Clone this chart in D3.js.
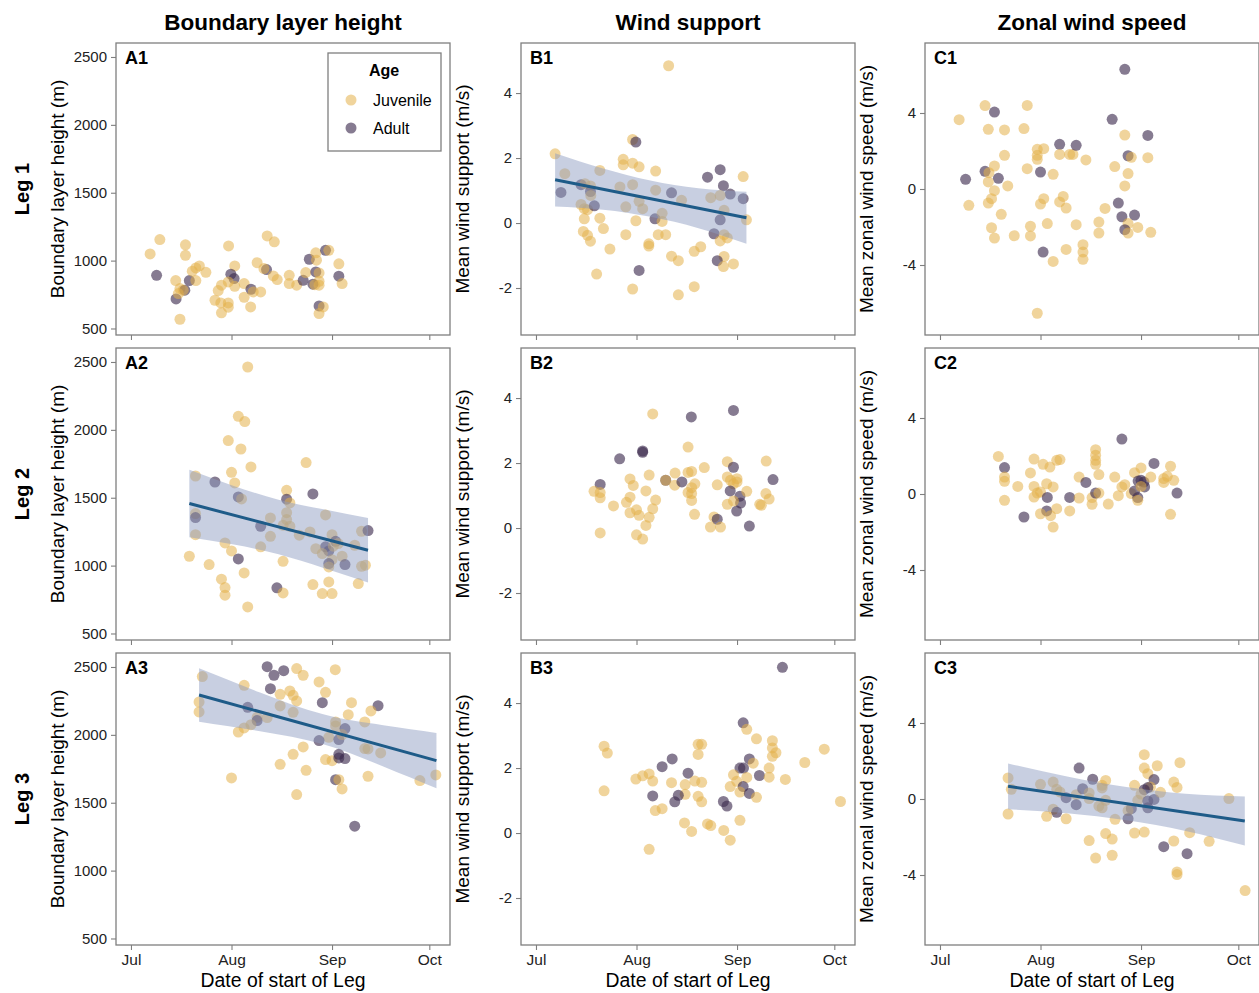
<!DOCTYPE html>
<html>
<head>
<meta charset="utf-8">
<script src="https://cdn.jsdelivr.net/npm/d3@7"></script>
<style>
  body { margin: 0; background: #fff; }
  text { font-family: "Liberation Sans", Arial, Helvetica, sans-serif; }
</style>
</head>
<body>
<svg id="chart" width="1259" height="993"></svg>
<script>
// ---- Data: [start day of year (2019), value, age: J = juvenile, A = adult] ----
const leg1Boundary = [
[187.9,1049,"J"],[190.9,1155,"J"],[189.9,892,"A"],[198.8,1116,"J"],[198.8,1039,"J"],[195.8,853,"J"],[197.1,794,"J"],[198.6,782,"A"],[200.0,853,"A"],[195.9,718,"A"],[197.1,568,"J"],[202.0,853,"J"],[200.9,922,"J"],[202.0,946,"J"],[203.1,961,"J"],[205.1,914,"J"],[198.1,782,"J"],[196.6,757,"J"],[212.1,1108,"J"],[214.0,961,"J"],[212.8,900,"A"],[213.8,868,"A"],[212.0,843,"J"],[209.9,819,"J"],[208.9,779,"J"],[214.0,811,"J"],[216.9,831,"J"],[219.0,789,"A"],[219.7,769,"J"],[222.0,769,"J"],[216.9,730,"J"],[207.9,708,"J"],[209.7,688,"J"],[212.0,688,"J"],[212.0,657,"J"],[209.9,615,"J"],[218.9,659,"J"],[224.0,1182,"J"],[226.2,1138,"J"],[220.9,985,"J"],[223.8,934,"A"],[223.0,941,"J"],[225.9,887,"J"],[227.1,860,"J"],[230.8,892,"J"],[230.8,831,"J"],[233.1,819,"J"],[235.1,855,"A"],[235.9,912,"J"],[237.0,1010,"A"],[239.0,1057,"J"],[239.2,1003,"J"],[239.0,917,"A"],[240.0,909,"J"],[240.0,848,"J"],[238.1,826,"A"],[240.0,819,"J"],[242.0,1076,"A"],[243.0,1076,"J"],[246.1,976,"J"],[246.1,885,"A"],[247.1,831,"J"],[240.0,666,"A"],[241.3,659,"J"],[240.0,610,"J"],[238.7,823,"J"]
];
const leg1Wind = [
[187.9,2.13,"J"],[190.9,1.52,"J"],[189.7,0.94,"A"],[195.9,1.18,"A"],[197.1,1.21,"J"],[198.8,1.14,"J"],[198.8,0.97,"A"],[198.9,0.85,"J"],[195.9,0.57,"J"],[196.9,0.44,"J"],[197.9,0.41,"J"],[200.0,0.53,"A"],[196.9,0.13,"J"],[201.7,0.15,"J"],[201.7,1.62,"J"],[202.8,-0.17,"J"],[196.6,-0.26,"J"],[197.9,-0.38,"J"],[198.8,-0.56,"J"],[204.8,-0.80,"J"],[200.7,-1.57,"J"],[207.9,1.11,"J"],[208.9,1.96,"J"],[208.9,1.79,"J"],[211.8,2.57,"J"],[212.8,2.49,"A"],[211.8,1.84,"J"],[213.8,1.73,"J"],[211.8,1.18,"J"],[213.8,0.67,"J"],[214.9,0.44,"J"],[209.7,0.50,"J"],[212.8,0.07,"J"],[209.7,-0.36,"J"],[218.9,1.60,"J"],[218.9,1.01,"J"],[218.7,0.13,"A"],[220.9,0.30,"J"],[220.9,0.05,"J"],[219.7,-0.36,"J"],[222.0,-0.36,"J"],[216.8,-0.64,"J"],[216.8,-0.71,"J"],[213.8,-1.46,"A"],[211.8,-2.03,"J"],[223.8,0.93,"A"],[226.9,0.70,"J"],[223.8,-1.02,"J"],[225.9,-1.16,"J"],[225.9,-2.21,"J"],[230.8,-0.87,"J"],[232.8,-0.73,"J"],[230.8,-1.96,"J"],[222.9,4.84,"J"],[234.9,1.41,"A"],[235.9,0.78,"J"],[238.8,1.64,"A"],[239.8,1.15,"A"],[241.9,0.89,"A"],[238.8,0.85,"J"],[245.9,1.43,"J"],[245.9,0.75,"A"],[240.0,0.39,"J"],[238.8,0.10,"A"],[246.9,0.10,"J"],[236.9,-0.33,"A"],[240.0,-0.36,"J"],[238.8,-0.55,"J"],[241.0,-0.46,"J"],[240.0,-1.03,"J"],[237.9,-1.16,"A"],[239.8,-1.34,"J"],[242.9,-1.26,"J"]
];
const leg1Zonal = [
[187.9,3.65,"J"],[195.9,4.39,"J"],[198.8,4.05,"A"],[196.9,3.14,"J"],[201.9,3.11,"J"],[208.9,4.40,"J"],[207.9,3.18,"J"],[201.9,1.77,"J"],[198.8,1.21,"J"],[195.9,0.93,"A"],[197.1,0.86,"J"],[200.0,0.56,"A"],[196.9,0.37,"J"],[189.9,0.51,"A"],[202.9,0.16,"J"],[198.8,-0.09,"J"],[197.9,-0.51,"J"],[196.9,-0.74,"J"],[190.9,-0.86,"J"],[200.9,-1.33,"J"],[197.9,-2.04,"J"],[198.8,-2.58,"J"],[204.9,-2.46,"J"],[209.9,-1.96,"J"],[209.9,-2.47,"J"],[208.9,1.07,"J"],[212.0,2.09,"J"],[212.0,1.77,"J"],[212.0,1.56,"J"],[214.0,2.12,"J"],[213.0,0.89,"A"],[216.9,0.77,"J"],[218.9,2.35,"A"],[218.9,1.82,"J"],[222.0,1.82,"J"],[223.0,1.82,"J"],[224.0,2.30,"A"],[227.0,1.53,"J"],[214.0,-0.51,"J"],[213.0,-0.79,"J"],[220.0,-0.39,"J"],[218.9,-0.68,"J"],[220.9,-1.00,"J"],[215.1,-1.82,"J"],[224.0,-1.88,"J"],[213.8,-3.32,"A"],[216.9,-3.81,"J"],[220.9,-3.18,"J"],[226.1,-2.93,"J"],[226.1,-3.32,"J"],[226.1,-3.70,"J"],[212.0,-6.54,"J"],[231.0,-1.74,"J"],[231.0,-2.32,"J"],[232.9,-1.02,"J"],[235.1,3.67,"A"],[239.0,6.30,"A"],[239.0,2.84,"J"],[246.1,2.82,"A"],[240.0,1.75,"A"],[241.0,1.67,"J"],[246.1,1.65,"J"],[235.9,1.18,"J"],[240.0,0.81,"J"],[239.0,0.16,"J"],[237.0,-0.74,"A"],[238.1,-1.46,"A"],[242.0,-1.37,"A"],[240.0,-1.82,"J"],[239.0,-2.14,"A"],[240.0,-2.32,"J"],[243.0,-2.02,"J"],[247.0,-2.28,"J"]
];
const leg2Boundary = [
[218.0,2463,"J"],[215.1,2100,"J"],[217.1,2061,"J"],[212.0,1921,"J"],[215.9,1859,"J"],[219.0,1727,"J"],[213.0,1687,"J"],[214.0,1609,"J"],[236.0,1759,"J"],[201.9,1660,"J"],[207.9,1616,"A"],[215.1,1506,"A"],[216.1,1491,"J"],[201.9,1383,"J"],[201.9,1354,"A"],[201.9,1228,"J"],[200.0,1069,"J"],[206.1,1008,"J"],[211.0,1167,"J"],[213.0,1108,"J"],[215.1,1049,"A"],[216.9,946,"J"],[209.9,900,"J"],[211.0,838,"J"],[211.0,782,"J"],[218.0,696,"J"],[222.0,1290,"A"],[225.0,1351,"J"],[225.0,1216,"J"],[222.0,1138,"J"],[230.0,1555,"J"],[230.0,1489,"A"],[231.0,1462,"J"],[230.0,1390,"J"],[230.0,1339,"J"],[228.9,1297,"J"],[231.0,1290,"J"],[233.9,1224,"J"],[237.2,1248,"J"],[238.1,1528,"A"],[242.0,1373,"J"],[244.0,1228,"J"],[245.1,1179,"A"],[242.0,1138,"A"],[243.0,1108,"A"],[244.4,1143,"J"],[239.0,1125,"J"],[241.0,1089,"J"],[244.0,1044,"J"],[243.0,1015,"A"],[243.0,990,"J"],[247.1,1069,"J"],[248.0,1008,"A"],[251.0,1150,"J"],[253.1,1253,"J"],[255.1,1258,"A"],[253.1,995,"J"],[254.3,1003,"J"],[252.1,868,"J"],[228.9,1032,"J"],[227.0,836,"A"],[228.9,799,"J"],[238.1,860,"J"],[241.0,794,"J"],[244.0,794,"J"],[243.0,880,"J"],[245.9,1162,"J"]
];
const leg2Wind = [
[218.0,3.51,"J"],[229.9,3.42,"A"],[242.9,3.62,"A"],[228.9,2.49,"J"],[214.9,2.37,"A"],[214.9,2.33,"A"],[207.8,2.13,"A"],[201.8,1.34,"A"],[199.9,1.13,"J"],[201.8,1.09,"J"],[201.8,0.93,"J"],[205.9,0.68,"J"],[211.0,1.51,"J"],[212.0,1.31,"J"],[211.0,0.95,"J"],[209.9,0.79,"J"],[211.0,0.47,"J"],[213.0,0.56,"J"],[213.8,0.39,"J"],[215.9,1.14,"J"],[216.9,1.63,"J"],[218.9,0.86,"J"],[218.0,0.59,"J"],[216.9,0.33,"J"],[215.9,0.08,"J"],[201.8,-0.15,"J"],[213.0,-0.21,"J"],[214.9,-0.34,"J"],[222.0,1.47,"A"],[222.0,1.47,"J"],[224.9,1.69,"J"],[224.8,1.32,"J"],[227.0,1.42,"A"],[228.9,1.71,"J"],[230.0,1.74,"J"],[231.0,1.36,"J"],[230.0,1.24,"J"],[228.9,1.09,"J"],[230.0,1.06,"J"],[230.0,0.85,"J"],[230.9,0.42,"J"],[233.9,1.86,"J"],[237.9,1.33,"J"],[236.9,0.34,"J"],[237.9,0.27,"A"],[235.8,0.03,"J"],[238.9,0.03,"J"],[241.0,2.04,"J"],[242.9,1.87,"A"],[241.0,1.57,"J"],[242.0,1.47,"J"],[244.0,1.52,"J"],[242.9,1.36,"J"],[244.0,1.42,"J"],[241.9,1.14,"A"],[244.9,0.98,"A"],[245.1,0.77,"A"],[243.9,0.52,"A"],[242.9,0.83,"J"],[241.0,0.73,"J"],[247.0,1.13,"J"],[247.8,0.06,"A"],[253.0,2.06,"J"],[252.9,1.06,"J"],[253.9,0.89,"J"],[251.0,0.73,"J"],[251.5,0.70,"J"],[255.1,1.49,"A"]
];
const leg2Zonal = [
[200.0,1.98,"J"],[201.9,1.39,"A"],[201.9,0.89,"J"],[201.9,0.67,"J"],[206.0,0.40,"J"],[201.9,-0.33,"J"],[207.9,-1.21,"A"],[211.0,1.84,"J"],[209.9,1.11,"J"],[211.0,0.40,"J"],[212.0,0.05,"J"],[211.0,-0.16,"J"],[213.0,0.11,"J"],[213.8,1.56,"J"],[215.9,1.42,"J"],[214.9,0.54,"J"],[216.9,0.37,"J"],[215.1,-0.18,"A"],[218.0,1.77,"J"],[219.0,1.81,"J"],[214.9,-0.89,"A"],[213.0,-1.04,"J"],[216.1,-1.14,"J"],[218.0,-0.77,"J"],[216.9,-1.74,"J"],[222.0,-0.18,"A"],[222.0,-0.89,"J"],[224.9,0.89,"J"],[224.9,-0.21,"J"],[227.0,0.61,"A"],[230.0,2.33,"J"],[230.0,2.04,"J"],[230.0,1.77,"J"],[230.0,1.56,"J"],[231.0,1.02,"J"],[228.9,-0.19,"J"],[228.9,-0.54,"J"],[230.0,0.05,"A"],[231.0,0.05,"J"],[233.9,-0.53,"J"],[235.9,0.89,"J"],[237.0,-0.09,"J"],[238.1,2.89,"A"],[238.1,0.37,"J"],[239.0,0.49,"J"],[241.0,0.02,"J"],[242.0,1.12,"J"],[244.0,1.37,"J"],[242.0,0.16,"A"],[243.1,0.68,"A"],[244.0,0.72,"A"],[244.9,0.63,"A"],[245.1,0.37,"A"],[243.0,-0.19,"A"],[243.0,-0.33,"J"],[247.0,0.89,"J"],[248.0,1.61,"A"],[251.0,0.81,"J"],[251.0,0.61,"J"],[252.1,0.93,"J"],[253.1,1.46,"J"],[254.1,0.72,"J"],[255.1,0.05,"A"],[253.1,-1.07,"J"],[244.0,0.40,"J"]
];
const leg3Boundary = [
[204.0,2429,"J"],[203.0,2242,"J"],[203.0,2169,"J"],[216.9,2365,"J"],[218.0,2203,"A"],[220.9,2129,"J"],[220.9,2105,"A"],[219.0,2075,"J"],[216.9,2051,"J"],[215.1,2021,"J"],[213.0,1683,"J"],[224.0,2502,"A"],[226.1,2439,"A"],[229.1,2473,"A"],[233.1,2488,"J"],[235.1,2439,"J"],[225.0,2340,"A"],[228.0,2299,"J"],[231.0,2323,"J"],[232.0,2291,"J"],[233.1,2250,"J"],[228.0,2213,"J"],[224.0,2127,"J"],[232.0,2166,"J"],[235.1,1911,"J"],[232.0,1857,"J"],[228.0,1783,"J"],[236.0,1739,"J"],[233.1,1560,"J"],[240.0,2390,"J"],[242.0,2313,"J"],[241.0,2237,"A"],[245.0,2480,"J"],[250.0,2237,"J"],[249.0,2149,"J"],[245.1,2095,"J"],[245.1,2066,"J"],[248.0,2046,"A"],[243.0,1982,"J"],[240.0,1958,"A"],[246.1,1965,"A"],[247.1,2002,"J"],[242.0,1818,"J"],[244.0,1810,"J"],[246.1,1857,"A"],[246.1,1830,"A"],[248.0,1825,"A"],[245.1,1670,"A"],[246.1,1670,"J"],[247.1,1602,"J"],[251.0,1327,"A"],[258.2,2215,"A"],[256.0,2176,"J"],[254.1,2095,"J"],[254.1,1899,"J"],[255.1,1896,"J"],[259.0,1867,"J"],[255.1,1695,"J"],[271.1,1663,"J"],[276.0,1705,"J"]
];
const leg3Wind = [
[203.0,2.67,"J"],[204.0,2.46,"J"],[203.0,1.30,"J"],[212.8,1.66,"J"],[214.9,1.76,"J"],[216.9,1.82,"J"],[218.0,1.60,"J"],[220.9,2.04,"A"],[224.0,2.28,"A"],[218.0,1.14,"A"],[218.8,0.69,"J"],[220.9,0.75,"J"],[216.9,-0.50,"J"],[223.8,1.55,"J"],[228.0,1.49,"J"],[228.9,1.84,"A"],[231.0,1.60,"J"],[233.1,1.56,"J"],[232.0,2.73,"J"],[233.1,2.73,"J"],[232.0,2.42,"J"],[228.0,1.19,"J"],[225.9,1.16,"A"],[224.8,0.96,"A"],[232.0,1.13,"J"],[233.1,0.96,"J"],[227.8,0.31,"J"],[230.0,0.05,"J"],[234.9,0.28,"J"],[235.9,0.23,"J"],[239.9,0.08,"J"],[241.9,-0.22,"J"],[239.8,0.97,"A"],[240.9,0.83,"A"],[244.9,0.39,"J"],[245.9,3.39,"A"],[247.0,3.19,"J"],[250.0,2.90,"J"],[247.8,2.28,"A"],[249.0,2.15,"J"],[244.9,2.00,"A"],[246.0,2.00,"A"],[242.9,1.79,"J"],[243.9,1.59,"J"],[241.9,1.43,"J"],[247.0,1.71,"J"],[245.9,1.43,"A"],[244.9,1.26,"J"],[247.8,1.22,"A"],[250.0,1.10,"J"],[250.9,1.77,"A"],[254.9,2.84,"J"],[254.9,2.62,"J"],[256.0,2.47,"J"],[254.9,2.36,"J"],[253.9,2.00,"J"],[253.9,1.72,"J"],[258.9,1.65,"J"],[258.0,5.10,"A"],[264.9,2.17,"J"],[270.9,2.58,"J"],[275.9,0.97,"J"]
];
const leg3Zonal = [
[203.0,1.11,"J"],[204.0,0.51,"J"],[203.0,-0.79,"J"],[213.0,0.77,"J"],[216.9,0.89,"J"],[218.0,0.51,"J"],[219.0,0.37,"J"],[220.9,0.07,"A"],[216.9,-0.54,"J"],[218.0,-0.70,"A"],[214.9,-0.91,"J"],[220.9,-1.04,"J"],[224.0,0.23,"J"],[224.0,-0.30,"A"],[224.9,1.63,"A"],[226.0,0.54,"A"],[228.0,0.32,"J"],[228.0,0.02,"J"],[229.1,1.04,"A"],[233.1,0.98,"J"],[232.0,0.72,"J"],[232.0,0.58,"J"],[231.0,-0.37,"J"],[232.0,-0.46,"J"],[233.1,-0.07,"J"],[236.0,-1.07,"J"],[233.1,-1.82,"J"],[235.1,-2.11,"J"],[228.0,-2.19,"J"],[230.0,-3.11,"J"],[235.1,-2.96,"J"],[242.0,0.72,"J"],[243.0,-0.07,"J"],[241.0,-0.51,"A"],[240.0,-0.61,"J"],[240.0,-1.04,"A"],[242.0,-1.79,"J"],[245.0,2.33,"J"],[245.0,1.63,"J"],[246.1,1.33,"J"],[248.0,1.02,"A"],[246.9,0.63,"J"],[245.0,0.49,"A"],[246.1,0.60,"A"],[244.0,0.26,"J"],[246.1,-0.11,"A"],[248.0,-0.02,"A"],[246.1,-0.46,"A"],[250.0,0.35,"J"],[249.0,1.75,"J"],[256.0,1.91,"J"],[254.1,0.89,"J"],[255.1,0.61,"J"],[245.0,-1.74,"J"],[251.0,-2.51,"A"],[254.1,-2.21,"J"],[259.0,-1.77,"J"],[258.2,-2.88,"A"],[255.1,-3.84,"J"],[255.1,-3.98,"J"],[265.0,-2.23,"J"],[271.1,0.02,"J"],[276.1,-4.82,"J"]
];

// ---- Fitted trends (linear fit with 95% confidence band) ----
const trendA2 = { day: [200.0, 213.7, 227.5, 241.4, 255.1], fit: [1457, 1113],
  lower: [1208, 1155, 1084, 983, 876], upper: [1706, 1587, 1486, 1415, 1350] };
const trendB1 = { day: [187.9, 202.7, 217.3, 232.1, 246.9], fit: [1.33, 0.16],
  lower: [0.51, 0.41, 0.19, -0.16, -0.64], upper: [2.15, 1.68, 1.31, 1.07, 0.96] };
const trendA3 = { day: [203.0, 221.8, 241.3, 259.8, 276.2], fit: [2294, 1810],
  lower: [2097, 2027, 1930, 1767, 1607], upper: [2490, 2312, 2151, 2071, 2014] };
const trendC3 = { day: [203.0, 221.2, 239.5, 257.7, 276.0], fit: [0.67, -1.16],
  lower: [-0.54, -0.75, -1.12, -1.68, -2.45], upper: [1.87, 1.18, 0.63, 0.28, 0.13] };
const trends = { A2: trendA2, B1: trendB1, A3: trendA3, C3: trendC3 };

const legNames = ["Leg 1", "Leg 2", "Leg 3"];
const variableTitles = ["Boundary layer height", "Wind support", "Zonal wind speed"];
const axisTitles = ["Boundary layer height (m)", "Mean wind support (m/s)", "Mean zonal wind speed (m/s)"];
const panelLetters = ["A", "B", "C"];
const blhTicks = [500, 1000, 1500, 2000, 2500];
const windTicks = [-2, 0, 2, 4];
const zonalTicks = [-4, 0, 4];
const ageLevels = ["Juvenile", "Adult"];
const ageCodes = { J: "Juvenile", A: "Adult" };

const panelData = [
  [leg1Boundary, leg1Wind, leg1Zonal],
  [leg2Boundary, leg2Wind, leg2Zonal],
  [leg3Boundary, leg3Wind, leg3Zonal]
];

// ---- Layout ----
const colLeft = [116, 521, 925];
const rowTop = [43, 348, 653];
const panelW = 334, panelH = 292;
const yDomains = [[452, 2603], [-3.446, 5.54], [-7.684, 7.684]];
const yTicks = [blhTicks, windTicks, zonalTicks];

const ageColor = { Juvenile: "#E3B04B", Adult: "#3B2A4E" };
const ageOpacity = { Juvenile: 0.55, Adult: 0.62 };
const frameColor = "#7f7f7f";
const textColor = "#222";
const fontStack = '"Liberation Sans", Arial, Helvetica, sans-serif';

const dayToDate = doy => new Date(Date.UTC(2019, 0, 1) + (doy - 1) * 864e5);
const x = d3.scaleUtc()
  .domain([dayToDate(177.38), dayToDate(280.38)])
  .range([0, panelW]);

const svg = d3.select("#chart");

// ---- Column and row headers ----
variableTitles.forEach((title, c) => {
  svg.append("text")
    .attr("x", colLeft[c] + panelW / 2).attr("y", 30)
    .attr("text-anchor", "middle")
    .attr("font-size", 22.5).attr("font-weight", "bold").attr("fill", "#000")
    .text(title);
});
legNames.forEach((name, r) => {
  svg.append("text")
    .attr("transform", `translate(29,${rowTop[r] + panelH / 2}) rotate(-90)`)
    .attr("text-anchor", "middle")
    .attr("font-size", 20).attr("font-weight", "bold").attr("fill", "#000")
    .text(name);
});

// ---- Panels ----
panelData.forEach((rowSets, r) => {
  rowSets.forEach((points, c) => {
    const id = panelLetters[c] + (r + 1);
    const g = svg.append("g").attr("transform", `translate(${colLeft[c]},${rowTop[r]})`);
    const y = d3.scaleLinear().domain(yDomains[c]).range([panelH, 0]);

    g.append("clipPath").attr("id", "clip-" + id)
      .append("rect").attr("width", panelW).attr("height", panelH);

    const plot = g.append("g").attr("clip-path", `url(#clip-${id})`);

    plot.selectAll("circle")
      .data(points)
      .join("circle")
      .attr("cx", d => x(dayToDate(d[0])))
      .attr("cy", d => y(d[1]))
      .attr("r", 5.5)
      .attr("fill", d => ageColor[ageCodes[d[2]]])
      .attr("fill-opacity", d => ageOpacity[ageCodes[d[2]]]);

    const trend = trends[id];
    if (trend) {
      const band = trend.day.map((day, i) => ({ day, lower: trend.lower[i], upper: trend.upper[i] }));
      plot.append("path")
        .datum(band)
        .attr("fill", "#8D9AC0")
        .attr("fill-opacity", 0.48)
        .attr("d", d3.area()
          .curve(d3.curveNatural)
          .x(d => x(dayToDate(d.day)))
          .y0(d => y(d.lower))
          .y1(d => y(d.upper)));
      const ends = [0, trend.day.length - 1].map((k, i) => ({ day: trend.day[k], fit: trend.fit[i] }));
      plot.append("path")
        .datum(ends)
        .attr("fill", "none")
        .attr("stroke", "#1E5B88")
        .attr("stroke-width", 3)
        .attr("d", d3.line()
          .x(d => x(dayToDate(d.day)))
          .y(d => y(d.fit)));
    }

    // frame
    g.append("rect")
      .attr("width", panelW).attr("height", panelH)
      .attr("fill", "none").attr("stroke", frameColor).attr("stroke-width", 1.3);

    // y axis
    const yAxis = g.append("g")
      .call(d3.axisLeft(y).tickValues(yTicks[c]).tickSize(5).tickPadding(4).tickFormat(v => String(v)));
    yAxis.select(".domain").remove();
    yAxis.selectAll("line").attr("stroke", frameColor).attr("stroke-width", 1.1);
    yAxis.selectAll("text").attr("font-size", 15).attr("fill", textColor).attr("font-family", fontStack);

    // x axis
    const xAxis = g.append("g")
      .attr("transform", `translate(0,${panelH})`)
      .call(d3.axisBottom(x).ticks(d3.utcMonth.every(1)).tickSize(5).tickPadding(4)
        .tickFormat(r === 2 ? d3.utcFormat("%b") : () => ""));
    xAxis.select(".domain").remove();
    xAxis.selectAll("line").attr("stroke", frameColor).attr("stroke-width", 1.1);
    xAxis.selectAll("text").attr("font-size", 15.5).attr("fill", textColor).attr("font-family", fontStack);

    // panel tag
    g.append("text")
      .attr("x", 9).attr("y", 21)
      .attr("font-size", 18).attr("font-weight", "bold").attr("fill", "#000")
      .text(id);

    // y axis title
    g.append("text")
      .attr("transform", `translate(${-52},${panelH / 2}) rotate(-90)`)
      .attr("text-anchor", "middle")
      .attr("font-size", 19).attr("fill", "#000")
      .text(axisTitles[c]);

    if (r === 2) {
      g.append("text")
        .attr("x", panelW / 2).attr("y", panelH + 42)
        .attr("text-anchor", "middle")
        .attr("font-size", 19.4).attr("fill", "#000")
        .text("Date of start of Leg");
    }
  });
});

// ---- Legend ----
const legend = svg.append("g").attr("transform", "translate(328,53)");
legend.append("rect")
  .attr("width", 113).attr("height", 98)
  .attr("fill", "#fff").attr("stroke", frameColor).attr("stroke-width", 1.3);
legend.append("text")
  .attr("x", 56).attr("y", 23)
  .attr("text-anchor", "middle")
  .attr("font-size", 16).attr("font-weight", "bold").attr("fill", "#000")
  .text("Age");
ageLevels.forEach((age, i) => {
  legend.append("circle")
    .attr("cx", 23).attr("cy", 47 + i * 28).attr("r", 5.5)
    .attr("fill", ageColor[age]).attr("fill-opacity", ageOpacity[age]);
  legend.append("text")
    .attr("x", 45).attr("y", 52.5 + i * 28)
    .attr("font-size", 16).attr("fill", "#000")
    .text(age);
});
</script>
</body>
</html>
